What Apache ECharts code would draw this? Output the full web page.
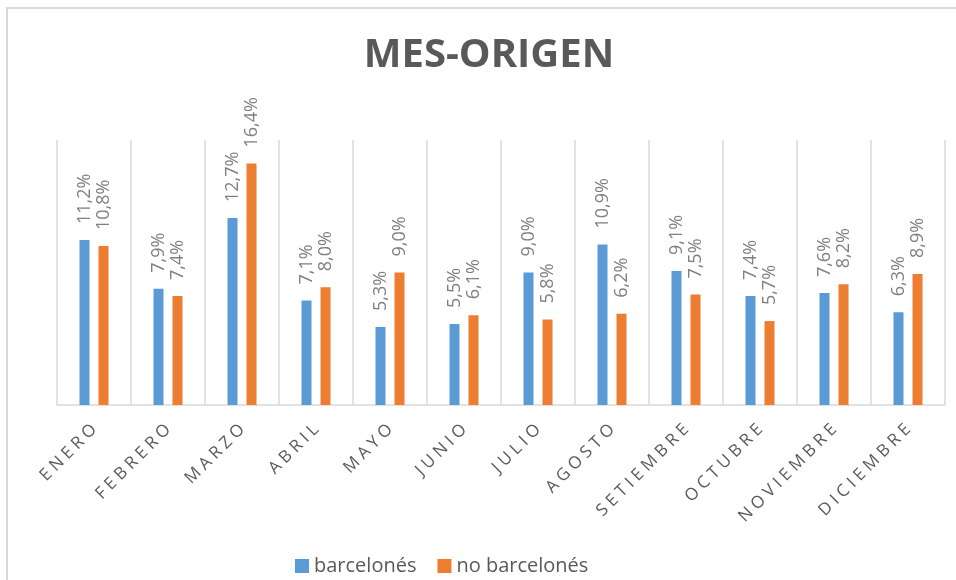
<!DOCTYPE html>
<html>
<head>
<meta charset="utf-8">
<script src="https://cdn.jsdelivr.net/npm/echarts@6/dist/echarts.min.js"></script>
<style>
  html, body { margin: 0; padding: 0; background: #fff; }
  #chart { width: 956px; height: 580px; }
</style>
</head>
<body>
<div id="chart"></div>
<script>
const months = ['ENERO', 'FEBRERO', 'MARZO', 'ABRIL', 'MAYO', 'JUNIO', 'JULIO', 'AGOSTO', 'SETIEMBRE', 'OCTUBRE', 'NOVIEMBRE', 'DICIEMBRE']
const barcelones = [11.2, 7.9, 12.7, 7.1, 5.3, 5.5, 9.0, 10.9, 9.1, 7.4, 7.6, 6.3]
const noBarcelones = [10.8, 7.4, 16.4, 8.0, 9.0, 6.1, 5.8, 6.2, 7.5, 5.7, 8.2, 8.9]
const seriesNames = ['barcelonés', 'no barcelonés']

const font = 'Open Sans'

// etiqueta vertical sobre cada barra, con coma decimal
const barLabel = {
  show: true,
  position: 'top',
  distance: 16,
  rotate: 90,
  align: 'left',
  verticalAlign: 'middle',
  color: '#808080',
  fontFamily: font,
  fontSize: 18,
  formatter: p => p.value.toFixed(1).replace('.', ',') + '%'
}

const chart = echarts.init(document.getElementById('chart'))
const option = {
  backgroundColor: '#fff',
  animation: false,
  title: {
    text: 'MES-ORIGEN',
    left: 484,
    textAlign: 'center',
    top: 31,
    textStyle: {
      fontFamily: font,
      fontWeight: 'bold',
      fontSize: 40,
      color: '#595959'
    }
  },
  graphic: [
    {
      type: 'polyline',
      shape: { points: [[7, 600], [7, 8], [970, 8]] },
      style: { stroke: '#d9d9d9', lineWidth: 2, fill: null },
      silent: true
    }
  ],
  legend: {
    data: seriesNames,
    left: 290,
    top: 551,
    itemWidth: 14,
    itemHeight: 14,
    itemGap: 21,
    icon: 'rect',
    textStyle: { fontFamily: font, fontSize: 20, color: '#595959' }
  },
  grid: {
    left: 57,
    right: 11,
    top: 140,
    bottom: 175
  },
  xAxis: {
    type: 'category',
    data: months,
    boundaryGap: true,
    axisLine: { lineStyle: { color: '#d9d9d9', width: 1.5 } },
    axisTick: { show: false },
    splitLine: { show: true, lineStyle: { color: '#d9d9d9', width: 1.5 } },
    axisLabel: {
      interval: 0,
      rotate: 45,
      margin: 22,
      fontFamily: font,
      fontSize: 17,
      color: '#595959',
      // letras espaciadas como en el original
      formatter: v => v.split('').join('\u2005')
    }
  },
  yAxis: {
    type: 'value',
    min: 0,
    max: 18,
    show: false,
    splitLine: { show: false }
  },
  series: [
    {
      name: seriesNames[0],
      type: 'bar',
      data: barcelones,
      barWidth: 10,
      barGap: '90%',
      itemStyle: { color: '#5b9bd5' },
      label: barLabel
    },
    {
      name: seriesNames[1],
      type: 'bar',
      data: noBarcelones,
      barWidth: 10,
      itemStyle: { color: '#ed7d31' },
      label: barLabel
    }
  ]
}
chart.setOption(option)
</script>
</body>
</html>
